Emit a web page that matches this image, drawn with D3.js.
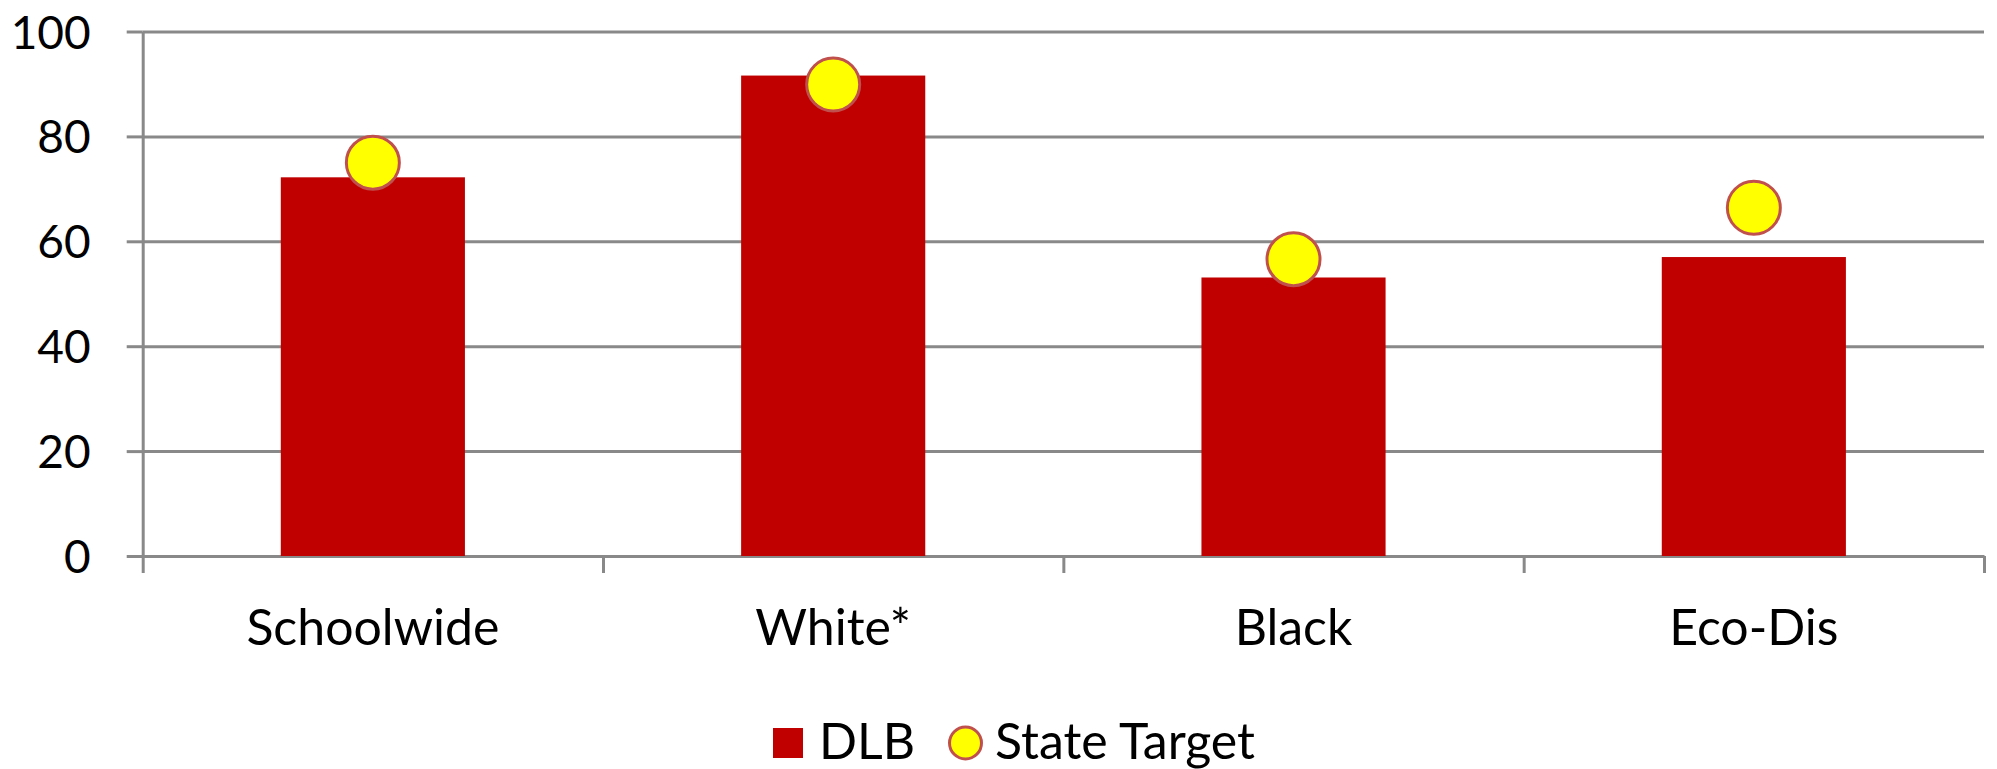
<!DOCTYPE html>
<html><head><meta charset="utf-8">
<script src="https://cdn.jsdelivr.net/npm/d3@7"></script>
<style>body{margin:0;background:#fff}svg{display:block}</style>
</head><body>
<svg id="c" width="1997" height="769"></svg>
<script>
const categories = ["Schoolwide", "White*", "Black", "Eco-Dis"];
const dlbValues = [72.2, 91.6, 53.1, 57.0];
const targetValues = [75.0, 89.9, 56.6, 66.4];
const yTicks = [0, 20, 40, 60, 80, 100];
const seriesNames = ["DLB", "State Target"];

const W = 1997, H = 769;
const m = {left: 142.7, right: 1984, top: 31.5, bottom: 556};
const svg = d3.select("#c");
const font = "Lato, 'Open Sans', sans-serif";
const gridColor = "#898989";

const x = d3.scaleBand().domain(categories).range([m.left, m.right]).padding(0);
const xb = d3.scaleLinear().domain([0, categories.length]).range([m.left, m.right]);
const y = d3.scaleLinear().domain([0, 100]).range([m.bottom, m.top]);

// gridlines
const grid = svg.append("g").attr("transform", `translate(${m.left},0)`)
  .call(d3.axisLeft(y).tickValues(yTicks).tickSize(-(m.right - m.left)).tickFormat(""));
grid.select(".domain").remove();
grid.selectAll("line").attr("stroke", gridColor).attr("stroke-width", 3);

// y axis
const ya = svg.append("g").attr("transform", `translate(${m.left},0)`)
  .call(d3.axisLeft(y).tickValues(yTicks).tickSizeInner(16).tickSizeOuter(0).tickPadding(36));
ya.select(".domain").attr("stroke", gridColor).attr("stroke-width", 3);
ya.selectAll("line").attr("stroke", gridColor).attr("stroke-width", 3);
ya.selectAll("text").attr("font-family", font).attr("font-size", 46).attr("fill", "#000").attr("dy", "0.36em");

// x axis tick marks at band boundaries
const xa = svg.append("g").attr("transform", `translate(0,${m.bottom})`)
  .call(d3.axisBottom(xb).tickValues(d3.range(categories.length + 1)).tickSizeInner(17).tickSizeOuter(0).tickFormat(""));
xa.select(".domain").attr("stroke", gridColor).attr("stroke-width", 3);
xa.selectAll("line").attr("stroke", gridColor).attr("stroke-width", 3);

// category labels
const xl = svg.append("g").attr("transform", `translate(0,${m.bottom})`)
  .call(d3.axisBottom(x).tickSize(0).tickPadding(0));
xl.select(".domain").remove();
xl.selectAll("text").attr("font-family", font).attr("font-size", 50).attr("fill", "#000")
  .attr("y", 89).attr("dy", 0);

// bars
const bw = x.bandwidth() * 0.4;
svg.append("g").selectAll("rect").data(categories).join("rect")
  .attr("x", (d) => x(d) + (x.bandwidth() - bw) / 2)
  .attr("width", bw)
  .attr("y", (d, i) => y(dlbValues[i]))
  .attr("height", (d, i) => y(0) - y(dlbValues[i]))
  .attr("fill", "#C00000");

// target markers
svg.append("g").selectAll("circle").data(categories).join("circle")
  .attr("cx", (d) => x(d) + x.bandwidth() / 2)
  .attr("cy", (d, i) => y(targetValues[i]))
  .attr("r", 26.5)
  .attr("fill", "#FFFF00").attr("stroke", "#C0504D").attr("stroke-width", 3);

// legend
const lg = svg.append("g");
lg.append("rect").attr("x", 773).attr("y", 728).attr("width", 30).attr("height", 30).attr("fill", "#C00000");
lg.append("text").attr("x", 819).attr("y", 759).text(seriesNames[0])
  .attr("font-family", font).attr("font-size", 50).attr("fill", "#000");
lg.append("circle").attr("cx", 965.5).attr("cy", 743).attr("r", 16)
  .attr("fill", "#FFFF00").attr("stroke", "#C0504D").attr("stroke-width", 3);
lg.append("text").attr("x", 995).attr("y", 759).text(seriesNames[1])
  .attr("font-family", font).attr("font-size", 50).attr("fill", "#000");
</script>
</body></html>
